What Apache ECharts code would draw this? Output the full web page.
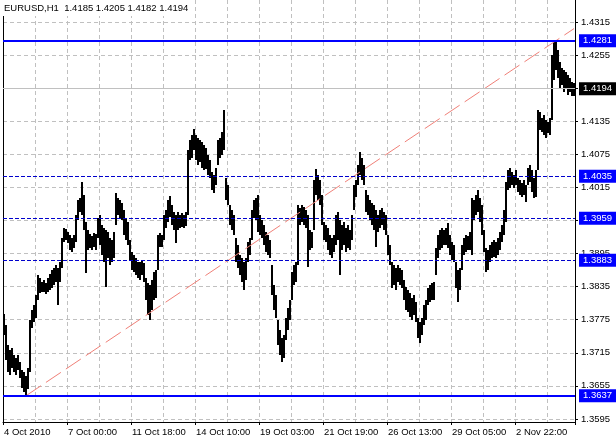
<!DOCTYPE html>
<html>
<head>
<meta charset="utf-8">
<script src="https://cdn.jsdelivr.net/npm/echarts@6/dist/echarts.min.js"></script>
<style>
html,body{margin:0;padding:0;background:#fff;}
#chart{width:616px;height:440px;}
</style>
</head>
<body>
<div id="chart"></div>
<script>
// ---- data ----
const symbolName = 'EURUSD,H1';
const ohlcTitle = [1.4185, 1.4205, 1.4182, 1.4194];
const timeLabels = ['4 Oct 2010','7 Oct 00:00','11 Oct 18:00','14 Oct 10:00','19 Oct 03:00','21 Oct 19:00','26 Oct 13:00','29 Oct 05:00','2 Nov 22:00'];
const barsPerLabel = 32;
const barsPerGrid = 16;
const priceTicks = [1.3595,1.3655,1.3715,1.3775,1.3835,1.3895,1.3955,1.4015,1.4075,1.4135,1.4195,1.4255,1.4315];
const levelsSolid = [1.4281, 1.3637];
const levelsDashed = [1.4035, 1.3959, 1.3883];
const lastPrice = 1.4194;
const trendPoints = [[11, 1.3637], [285, 1.4303]];

const highs = [
1.3785,1.3765,1.3729,1.3720,1.3724,1.3711,1.3706,1.3711,1.3698,1.3684,
1.3680,1.3673,1.3687,1.3774,1.3793,1.3802,1.3820,1.3856,1.3851,1.3843,
1.3847,1.3842,1.3851,1.3858,1.3865,1.3869,1.3874,1.3869,1.3880,1.3923,
1.3941,1.3940,1.3934,1.3929,1.3923,1.3929,1.3965,1.3992,1.3996,1.4025,
1.4001,1.3952,1.3938,1.3930,1.3927,1.3932,1.3930,1.3960,1.3965,1.3947,
1.3941,1.3938,1.3934,1.3923,1.3920,1.3934,1.4005,1.3996,1.3992,1.3987,
1.3974,1.3960,1.3952,1.3920,1.3898,1.3892,1.3887,1.3880,1.3880,1.3883,
1.3878,1.3851,1.3842,1.3838,1.3847,1.3862,1.3865,1.3929,1.3932,1.3929,
1.3965,1.3974,1.3992,1.3999,1.3983,1.3970,1.3965,1.3970,1.3965,1.3969,
1.3965,1.3970,1.4083,1.4101,1.4110,1.4121,1.4110,1.4105,1.4101,1.4097,
1.4092,1.4086,1.4074,1.4065,1.4043,1.4037,1.4050,1.4101,1.4105,1.4116,
1.4155,1.4032,1.4019,1.3983,1.3974,1.3965,1.3923,1.3911,1.3892,1.3887,
1.3880,1.3887,1.3916,1.3923,1.3974,1.3992,1.3996,1.4001,1.3965,1.3956,
1.3947,1.3934,1.3929,1.3920,1.3874,1.3838,1.3820,1.3774,1.3756,1.3742,
1.3747,1.3778,1.3796,1.3811,1.3862,1.3874,1.3880,1.3983,1.3978,1.3983,
1.3979,1.3974,1.3965,1.3938,1.3934,1.4028,1.4048,1.4037,1.4028,1.4001,
1.3952,1.3947,1.3941,1.3929,1.3923,1.3929,1.3965,1.3970,1.3956,1.3947,
1.3952,1.3941,1.3947,1.3938,1.3965,1.4019,1.4028,1.4056,1.4079,1.4068,
1.4056,1.4010,1.4001,1.3992,1.3987,1.3983,1.3974,1.3965,1.3974,1.3978,
1.3970,1.3965,1.3929,1.3911,1.3880,1.3874,1.3869,1.3874,1.3869,1.3865,
1.3847,1.3834,1.3829,1.3824,1.3814,1.3820,1.3807,1.3778,1.3771,1.3778,
1.3802,1.3811,1.3833,1.3838,1.3842,1.3843,1.3905,1.3929,1.3938,1.3941,
1.3938,1.3941,1.3950,1.3929,1.3916,1.3911,1.3880,1.3865,1.3869,1.3911,
1.3923,1.3929,1.3927,1.3934,1.3996,1.3992,1.4001,1.4010,1.3996,1.3983,
1.3938,1.3905,1.3901,1.3911,1.3916,1.3920,1.3916,1.3923,1.3934,1.3947,
1.3974,1.4025,1.4047,1.4050,1.4043,1.4037,1.4047,1.4032,1.4028,1.4023,
1.4028,1.4019,1.4050,1.4056,1.4047,1.4032,1.4047,1.4155,1.4152,1.4141,
1.4146,1.4137,1.4134,1.4141,1.4255,1.4279,1.4281,1.4264,1.4242,1.4232,
1.4228,1.4224,1.4219,1.4213,1.4206,1.4205
];
const lows = [
1.3747,1.3702,1.3680,1.3675,1.3687,1.3680,1.3675,1.3684,1.3669,1.3651,
1.3644,1.3637,1.3648,1.3680,1.3760,1.3771,1.3778,1.3811,1.3824,1.3825,
1.3825,1.3822,1.3825,1.3829,1.3833,1.3838,1.3843,1.3802,1.3843,1.3869,
1.3916,1.3920,1.3914,1.3901,1.3898,1.3905,1.3916,1.3956,1.3970,1.3965,
1.3938,1.3860,1.3901,1.3905,1.3901,1.3907,1.3901,1.3923,1.3911,1.3892,
1.3880,1.3834,1.3887,1.3874,1.3880,1.3887,1.3947,1.3965,1.3960,1.3956,
1.3929,1.3920,1.3911,1.3883,1.3865,1.3862,1.3856,1.3851,1.3847,1.3856,
1.3843,1.3811,1.3784,1.3774,1.3793,1.3811,1.3814,1.3865,1.3907,1.3907,
1.3920,1.3941,1.3952,1.3960,1.3947,1.3938,1.3914,1.3938,1.3941,1.3943,
1.3941,1.3945,1.3965,1.4065,1.4068,1.4083,1.4065,1.4056,1.4061,1.4050,
1.4047,1.4047,1.4037,1.4032,1.4010,1.4005,1.4019,1.4056,1.4068,1.4074,
1.4083,1.3992,1.3983,1.3947,1.3938,1.3929,1.3880,1.3869,1.3856,1.3843,
1.3829,1.3847,1.3880,1.3892,1.3920,1.3960,1.3956,1.3934,1.3929,1.3923,
1.3911,1.3898,1.3892,1.3887,1.3820,1.3793,1.3778,1.3729,1.3711,1.3698,
1.3706,1.3738,1.3756,1.3774,1.3811,1.3838,1.3843,1.3874,1.3947,1.3952,
1.3947,1.3941,1.3871,1.3901,1.3905,1.3938,1.4001,1.3992,1.3983,1.3947,
1.3920,1.3916,1.3901,1.3892,1.3887,1.3898,1.3911,1.3920,1.3856,1.3901,
1.3911,1.3898,1.3905,1.3901,1.3920,1.3974,1.3998,1.4019,1.4037,1.4028,
1.4019,1.3970,1.3965,1.3956,1.3947,1.3938,1.3907,1.3934,1.3941,1.3947,
1.3938,1.3929,1.3892,1.3874,1.3833,1.3838,1.3829,1.3843,1.3838,1.3833,
1.3811,1.3793,1.3789,1.3780,1.3774,1.3784,1.3771,1.3742,1.3733,1.3747,
1.3765,1.3774,1.3802,1.3807,1.3811,1.3811,1.3856,1.3887,1.3901,1.3905,
1.3911,1.3911,1.3905,1.3892,1.3883,1.3880,1.3833,1.3807,1.3829,1.3865,
1.3892,1.3898,1.3901,1.3901,1.3892,1.3956,1.3965,1.3970,1.3952,1.3929,
1.3898,1.3862,1.3865,1.3880,1.3887,1.3890,1.3887,1.3892,1.3901,1.3916,
1.3929,1.3952,1.4010,1.4014,1.4019,1.4014,1.4019,1.4007,1.4001,1.3998,
1.4001,1.3989,1.4019,1.4025,1.4007,1.3996,1.3998,1.4047,1.4119,1.4116,
1.4110,1.4105,1.4114,1.4110,1.4137,1.4210,1.4228,1.4213,1.4195,1.4201,
1.4188,1.4195,1.4183,1.4188,1.4181,1.4182
];
const categories = highs.map((_, i) => i);

// ---- chart ----
const FONT = 'Liberation Sans';
const FS = 9.5;
const chart = echarts.init(document.getElementById('chart'), null, {renderer: 'canvas'});
const fmt = v => Number(v).toFixed(4);

function lvlLabel(bg) {
  return {show: true, position: 'end', distance: 4, formatter: p => fmt(p.value),
    color: '#fff', backgroundColor: bg, padding: [2, 4, 1, 4],
    fontFamily: FONT, fontSize: FS};
}
const markData = [];
levelsSolid.forEach(v => markData.push({yAxis: v, lineStyle: {color: '#0000ff', width: 2, type: 'solid'}, label: lvlLabel('#0000ff')}));
levelsDashed.forEach(v => markData.push({yAxis: v, lineStyle: {color: '#0000cc', width: 1, type: [4, 2]}, label: lvlLabel('#0000ff')}));

const option = {
  backgroundColor: '#fff',
  animation: false,
  title: {
    text: symbolName + '  ' + ohlcTitle.map(fmt).join(' '),
    left: 1, top: 0, padding: [3, 4, 3, 3], backgroundColor: '#fff',
    textStyle: {fontFamily: FONT, fontSize: FS, fontWeight: 'normal', color: '#000'}
  },
  grid: {left: 3, right: 41, top: 0, bottom: 18},
  xAxis: {
    type: 'category', data: categories, boundaryGap: true,
    axisLine: {show: true, lineStyle: {color: '#000', width: 1}},
    axisTick: {show: true, interval: barsPerLabel - 1, length: 3, lineStyle: {color: '#000'}},
    axisLabel: {interval: barsPerLabel - 1, align: 'left', margin: 5, color: '#000',
      fontFamily: FONT, fontSize: FS,
      formatter: (v, i) => timeLabels[Math.round(i / barsPerLabel)] || ''},
    splitLine: {show: true, interval: barsPerGrid - 1, lineStyle: {color: '#c0c0c0', type: [4, 3]}}
  },
  yAxis: [{
    type: 'value', position: 'right', min: 1.35894, max: 1.43549,
    axisLine: {show: true, lineStyle: {color: '#000'}},
    axisTick: {show: true, length: 3, customValues: priceTicks, lineStyle: {color: '#000'}},
    axisLabel: {customValues: priceTicks, formatter: fmt, color: '#000', margin: 6,
      fontFamily: FONT, fontSize: FS},
    splitLine: {show: true, lineStyle: {color: '#c0c0c0', type: [4, 3]}}
  }, {
    type: 'value', position: 'left', min: 1.35894, max: 1.43549,
    axisLine: {show: true, lineStyle: {color: '#000'}},
    axisTick: {show: false}, axisLabel: {show: false}, splitLine: {show: false}
  }],
  series: [
    {
      type: 'line', data: [], z: 1, silent: true,
      markLine: {symbol: 'none', silent: true, animation: false, precision: 4,
        data: [{yAxis: lastPrice, lineStyle: {color: '#c0c0c0', width: 1, type: 'solid'}, label: lvlLabel('#000')}]}
    },
    {
      type: 'custom', z: 2, silent: true,
      data: highs.map((h, i) => [categories[i], h, lows[i]]),
      encode: {x: 0, y: [1, 2]},
      renderItem: (params, api) => {
        const c = api.value(0);
        const top = api.coord([c, api.value(1)]);
        const bot = api.coord([c, api.value(2)]);
        const w = api.size([1, 0])[0];
        return {type: 'rect', shape: {x: Math.round(top[0] - w / 2), y: Math.round(top[1]), width: Math.round(w), height: Math.max(1, Math.round(bot[1] - top[1]))}, style: {fill: '#000'}};
      }
    },
    {
      type: 'line', data: [], z: 3, silent: true,
      markLine: {symbol: 'none', silent: true, animation: false, precision: 4, data: markData}
    },
    {
      type: 'line', z: 4, silent: true, symbol: 'none', data: trendPoints,
      lineStyle: {color: '#f08078', width: 1, type: [18, 6]}
    }
  ]
};
chart.setOption(option);
</script>
</body>
</html>
